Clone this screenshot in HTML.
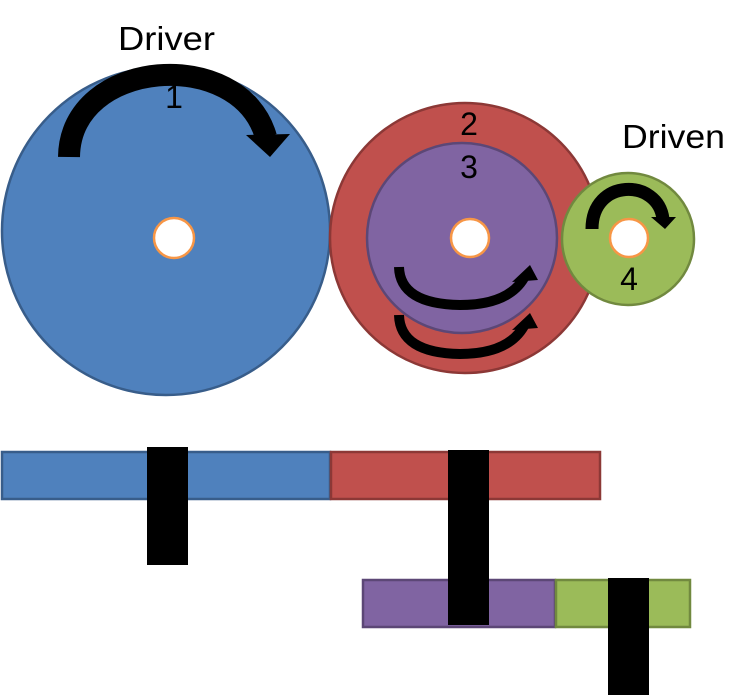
<!DOCTYPE html>
<html><head><meta charset="utf-8"><style>
html,body{margin:0;padding:0;background:#fff;}
svg{display:block;}
text{font-family:"Liberation Sans",sans-serif;fill:#000;}
</style></head><body>
<svg width="752" height="697" viewBox="0 0 752 697" xmlns="http://www.w3.org/2000/svg">
<!-- blue gear -->
<circle cx="166" cy="231" r="164" fill="#4f81bd" stroke="#385d8a" stroke-width="2.5"/>
<circle cx="174" cy="238" r="20" fill="#fff" stroke="#f79646" stroke-width="2.5"/>
<!-- red gear -->
<circle cx="465" cy="238" r="135" fill="#c0504d" stroke="#8c3836" stroke-width="2.5"/>
<circle cx="462" cy="238" r="95" fill="#8064a2" stroke="#5c4776" stroke-width="2.5"/>
<circle cx="470" cy="238" r="19" fill="#fff" stroke="#f79646" stroke-width="2.5"/>
<!-- green gear -->
<circle cx="628" cy="239" r="66" fill="#9bbb59" stroke="#71893f" stroke-width="2.5"/>
<circle cx="629" cy="238" r="19" fill="#fff" stroke="#f79646" stroke-width="2.5"/>

<!-- blue arrow -->
<path d="M69 157 C 70 58, 240 45, 266 137" fill="none" stroke="#000" stroke-width="22"/>
<polygon points="246,135 290,134 270,157" fill="#000"/>
<!-- green arrow -->
<path d="M592 229 C 592 178, 658 178, 663 219" fill="none" stroke="#000" stroke-width="13"/>
<polygon points="651,217 676,217 665,229" fill="#000"/>
<!-- purple arrows -->
<path d="M399 267 Q400 304 460 305 Q508 305 524 278" fill="none" stroke="#000" stroke-width="10"/>
<polygon points="512,282 538,280 530,265" fill="#000"/>
<path d="M399 315 Q400 353 460 354 Q508 354 524 326" fill="none" stroke="#000" stroke-width="10"/>
<polygon points="512,330 538,328 530,313" fill="#000"/>

<!-- labels -->
<text x="118" y="50" font-size="33" textLength="97" lengthAdjust="spacingAndGlyphs">Driver</text>
<text x="174" y="108" font-size="32" text-anchor="middle">1</text>
<text x="469" y="135" font-size="32" text-anchor="middle">2</text>
<text x="469" y="178" font-size="32" text-anchor="middle">3</text>
<text x="622" y="148" font-size="33" textLength="103" lengthAdjust="spacingAndGlyphs">Driven</text>
<text x="629" y="290" font-size="32" text-anchor="middle">4</text>

<!-- bars -->
<rect x="2" y="452" width="328" height="47" fill="#4f81bd" stroke="#385d8a" stroke-width="2.5"/>
<rect x="331" y="452" width="269" height="47" fill="#c0504d" stroke="#8c3836" stroke-width="2.5"/>
<rect x="147" y="447" width="41" height="118" fill="#000"/>
<rect x="363" y="580" width="192" height="47" fill="#8064a2" stroke="#5c4776" stroke-width="2.5"/>
<rect x="556" y="580" width="134" height="47" fill="#9bbb59" stroke="#71893f" stroke-width="2.5"/>
<rect x="448" y="450" width="41" height="175" fill="#000"/>
<rect x="608" y="578" width="41" height="117" fill="#000"/>
</svg>
</body></html>
